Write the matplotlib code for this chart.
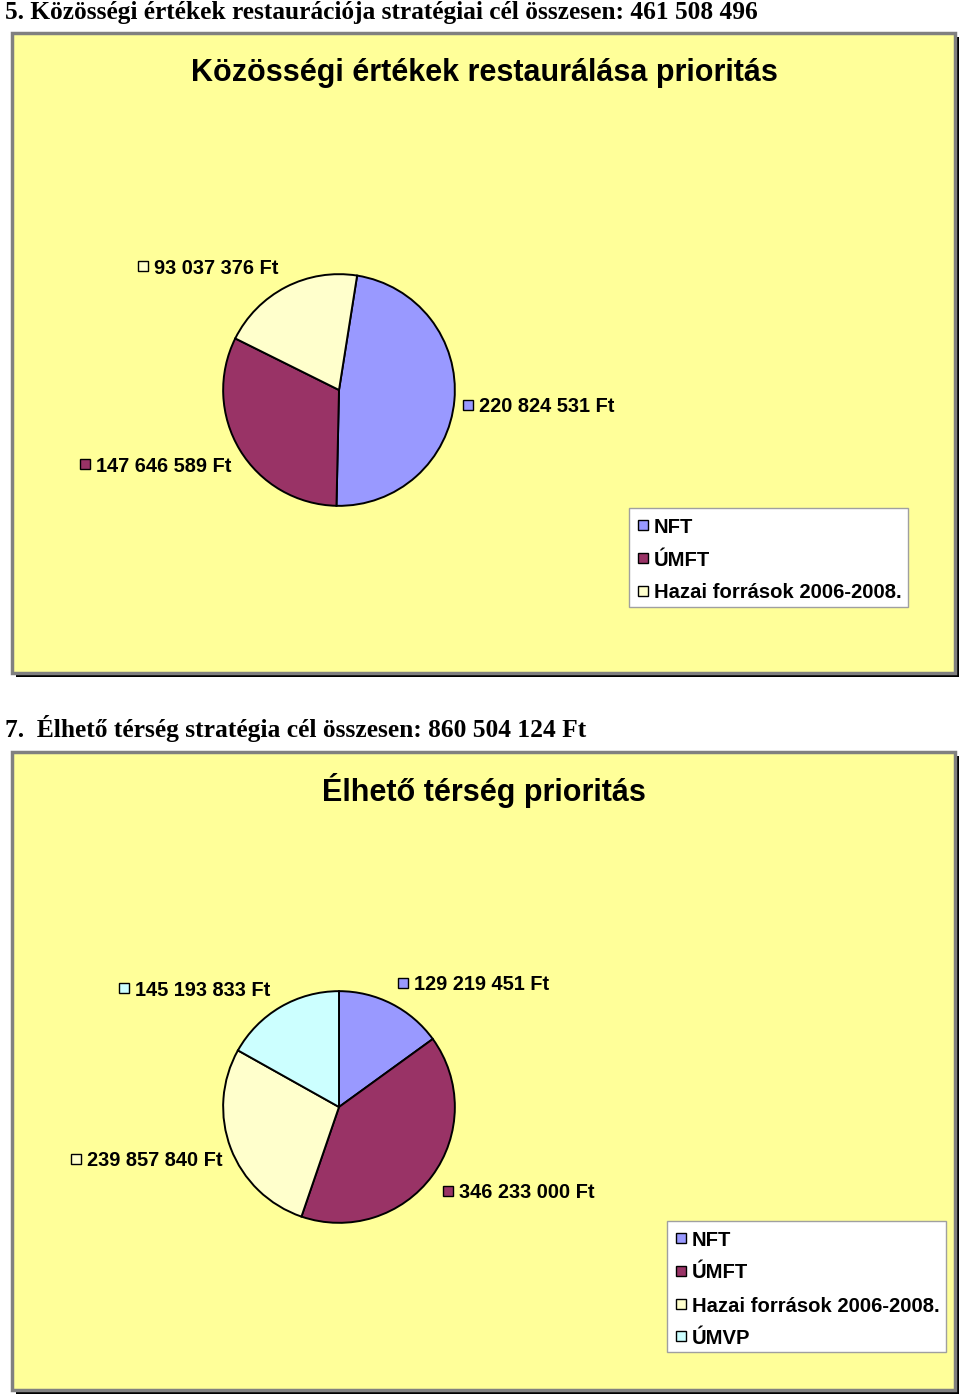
import matplotlib
matplotlib.use("Agg")
import matplotlib.pyplot as plt
from matplotlib.patches import Rectangle

# ---- data ----
heading1 = "5. Közösségi értékek restaurációja stratégiai cél összesen: 461 508 496"
title1 = "Közösségi értékek restaurálása prioritás"
cats1 = ["NFT", "ÚMFT", "Hazai források 2006-2008."]
vals1 = [220824531, 147646589, 93037376]

heading2 = "7.  Élhető térség stratégia cél összesen: 860 504 124 Ft"
title2 = "Élhető térség prioritás"
cats2 = ["NFT", "ÚMFT", "Hazai források 2006-2008.", "ÚMVP"]
vals2 = [129219451, 346233000, 239857840, 145193833]

COLORS = {"NFT": "#9999FF", "ÚMFT": "#993366",
          "Hazai források 2006-2008.": "#FFFFCC", "ÚMVP": "#CCFFFF"}
YELLOW = "#FFFF99"

W, H = 960, 1397
fig = plt.figure(figsize=(W / 100, H / 100), dpi=100)
fig.patch.set_facecolor("white")


def fx(x):
    return x / W


def fy(y):
    return 1 - y / H


def rect(x0, y0, x1, y1, **kw):
    r = Rectangle((fx(x0), fy(y1)), fx(x1) - fx(x0), fy(y0) - fy(y1),
                  transform=fig.transFigure, **kw)
    fig.add_artist(r)
    return r


def fmt(v):
    return f"{v:,}".replace(",", " ") + " Ft"


SANS = ["Liberation Sans", "DejaVu Sans"]
SERIF = ["Liberation Serif", "DejaVu Serif"]


def frame(x0, y0, x1, y1):
    rect(x0 + 4, y0 + 4, x1 + 4, y1 + 4, facecolor="black", edgecolor="none", zorder=0)
    rect(x0, y0, x1, y1, facecolor=YELLOW, edgecolor="#808080", linewidth=2.5, zorder=1)


def pie(cx, cy, r, vals, cats, start):
    ax = fig.add_axes([fx(cx - r), fy(cy + r), (2 * r) / W, (2 * r) / H])
    ax.set_zorder(3)
    ax.pie(vals, colors=[COLORS[c] for c in cats], startangle=start, counterclock=False,
           wedgeprops=dict(edgecolor="black", linewidth=1.4))
    ax.set_xlim(-1.01, 1.01)
    ax.set_ylim(-1.01, 1.01)
    ax.set_aspect("auto")
    ax.axis("off")
    ax.patch.set_visible(False)
    return ax


def label(x, y, text, color, size=14.4):
    rect(x - 5, y - 5, x + 5, y + 5, facecolor=color, edgecolor="black", linewidth=1.0, zorder=5)
    fig.text(fx(x + 11), fy(y + 2), text, fontsize=size, fontweight="bold", family=SANS,
             va="center", ha="left", zorder=5)


def legend(x0, y0, x1, y1, cats, ys, sqx):
    rect(x0, y0, x1, y1, facecolor="white", edgecolor="#A0A0A0", linewidth=1.0, zorder=4)
    for c, y in zip(cats, ys):
        label(sqx, y, c, COLORS[c], size=14.6)


# ---------- chart 1 ----------
fig.text(fx(5), fy(13), heading1, fontsize=18.3, fontweight="bold", family=SERIF,
         va="center", ha="left")
frame(12, 33, 955, 673)
fig.text(fx(484), fy(73), title1, fontsize=22, fontweight="bold", family=SANS,
         va="center", ha="center", zorder=3)
pie(339, 390, 117, vals1, cats1, 90 - 9)
label(143, 266, fmt(vals1[2]), COLORS[cats1[2]])
label(468, 405, fmt(vals1[0]), COLORS[cats1[0]])
label(85, 464, fmt(vals1[1]), COLORS[cats1[1]])
legend(629, 508, 908, 607, cats1, [525, 558, 591], 643)

# ---------- chart 2 ----------
fig.text(fx(5), fy(729), heading2, fontsize=18.4, fontweight="bold", family=SERIF,
         va="center", ha="left")
frame(12, 752, 955, 1390)
fig.text(fx(484), fy(790), title2, fontsize=22, fontweight="bold", family=SANS,
         va="center", ha="center", zorder=3)
pie(339, 1107, 117, vals2, cats2, 90)
label(124, 988, fmt(vals2[3]), COLORS[cats2[3]])
label(403, 983, fmt(vals2[0]), COLORS[cats2[0]])
label(76, 1159, fmt(vals2[2]), COLORS[cats2[2]])
label(448, 1191, fmt(vals2[1]), COLORS[cats2[1]])
legend(667, 1221, 946, 1352, cats2, [1238, 1271, 1304, 1336], 681)

fig.savefig("out.png", dpi=100, facecolor="white")
